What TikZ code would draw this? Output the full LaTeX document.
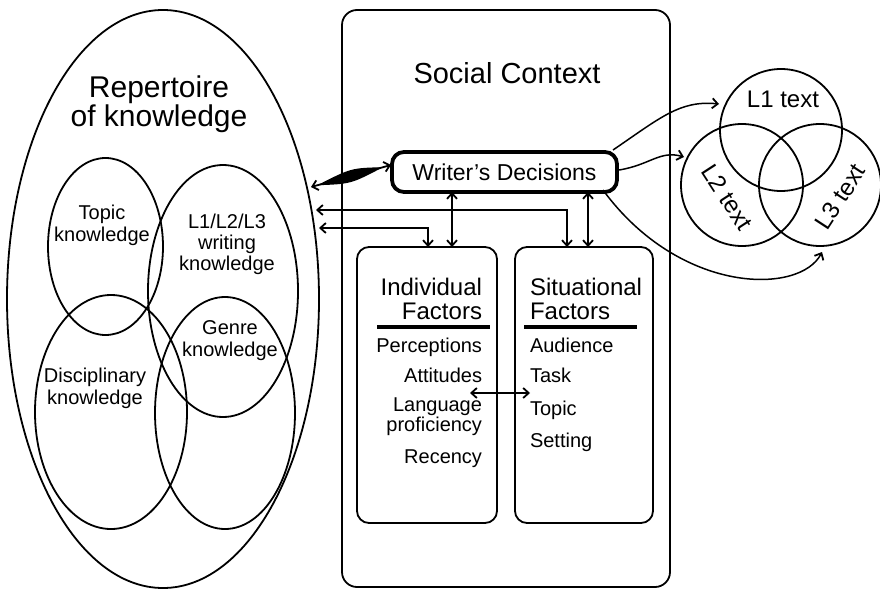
\documentclass[tikz,border=0pt]{standalone}
\usepackage{fontspec}
\setmainfont{Liberation Sans}
\usetikzlibrary{shapes.geometric,arrows.meta,calc}
\begin{document}
\begin{tikzpicture}[x=1pt,y=-1pt,line width=1.8pt,
  ell/.style={ellipse,draw,inner sep=0pt,outer sep=0pt},
  circ/.style={circle,draw,inner sep=0pt,outer sep=0pt,minimum size=122pt},
  box/.style={draw,rounded corners=12pt,inner sep=0pt,outer sep=0pt},
  tip/.tip={Straight Barb[length=5.5pt,width=10pt,line width=1.8pt]},
  arr/.style={tip-tip,line width=1.8pt},
  oneway/.style={-tip,line width=1.5pt},
  lbl/.style={inner sep=0pt,outer sep=0pt,align=center},
  ftitle/.style={font=\fontsize{30}{29}\selectfont},
  fsmall/.style={font=\fontsize{20}{22}\selectfont},
  fhead/.style={font=\fontsize{24}{24}\selectfont},
]
\useasboundingbox (0,0) rectangle (880,589);

% ---------- left: repertoire of knowledge ----------
\node[ell,minimum width=312pt,minimum height=578pt] (rep) at (163,299) {};
\node[lbl,ftitle] (reptitle) at (159,104.5) {Repertoire\\of knowledge};
\node[ell,minimum width=115pt,minimum height=177pt] (topic) at (105.5,246.5) {};
\node[ell,minimum width=150pt,minimum height=252pt] (wk) at (223,291) {};
\node[ell,minimum width=152pt,minimum height=234pt] (disc) at (111,412) {};
\node[ell,minimum width=140pt,minimum height=232pt] (genre) at (225,413) {};
\node[lbl,fsmall] (topict) at (102,225) {Topic\\knowledge};
\node[lbl,font=\fontsize{20}{21}\selectfont] (wkt) at (227,244) {L1/L2/L3\\writing\\knowledge};
\node[lbl,fsmall] (genret) at (230,341) {Genre\\knowledge};
\node[lbl,fsmall] (disct) at (95,388.5) {Disciplinary\\knowledge};

% ---------- middle: social context ----------
\node[box,rounded corners=15pt,minimum width=328pt,minimum height=577pt] (soc) at (506,298.5) {};
\node[lbl,font=\fontsize{29}{29}\selectfont,anchor=base] (soct) at (507,83) {Social Context};
\node[box,line width=3.8pt,minimum width=225pt,minimum height=40pt,
      font=\fontsize{23}{23}\selectfont] (wd) at (504.5,172) {Writer’s Decisions};
\node[box,minimum width=140pt,minimum height=276pt] (ind) at (427,385) {};
\node[box,minimum width=138pt,minimum height=276pt] (sit) at (584,385) {};

% individual factors
\node[lbl,fhead,align=right,anchor=east] (indt) at (482,298.8) {Individual\\Factors};
\draw[line width=4pt] (377,327) -- (490,327);
\node[lbl,fsmall,anchor=base east] (perc) at (482,352) {Perceptions};
\node[lbl,fsmall,anchor=base east] (att) at (482,382) {Attitudes};
\node[lbl,font=\fontsize{20}{17}\selectfont,align=right,anchor=east] (lang) at (482,417) {Language\\proficiency};
\node[lbl,fsmall,anchor=base east] (rec) at (482,463) {Recency};

% situational factors
\node[lbl,fhead,align=left,anchor=west] (sitt) at (530,298.8) {Situational\\Factors};
\draw[line width=4pt] (524,327) -- (637,327);
\node[lbl,fsmall,anchor=base west] (aud) at (530,352) {Audience};
\node[lbl,fsmall,anchor=base west] (task) at (530,382) {Task};
\node[lbl,fsmall,anchor=base west] (top) at (530,415) {Topic};
\node[lbl,fsmall,anchor=base west] (set) at (530,447) {Setting};

% ---------- right: texts venn ----------
\node[circ] (l1) at (781,130) {};
\node[circ] (l2) at (742,185) {};
\node[circ] (l3) at (820,185) {};
\node[lbl,font=\fontsize{24}{24}\selectfont,anchor=base] (l1t) at (783,107) {L1 text};
\node[lbl,font=\fontsize{24}{24}\selectfont,rotate=-57] (l2t) at (727,197) {L2 text};
\node[lbl,font=\fontsize{24}{24}\selectfont,rotate=57] (l3t) at (840,197) {L3 text};

% ---------- connectors ----------
\coordinate (repA) at (311,187);
\coordinate (repB) at (316,210);
\coordinate (repC) at (319,228);
\coordinate (wdA) at (391,165);
% thick tapered double arrow
\draw[arr] (repA) -- (wdA);
\fill ($(repA)!0.08!(wdA)$) .. controls ($(repA)!0.5!(wdA)+(0,-8)$) .. ($(repA)!0.9!(wdA)$)
      .. controls ($(repA)!0.5!(wdA)+(0,8)$) .. cycle;

\draw[arr] (repB) -| (sit.north -| 567,0);
\draw[arr] (repC) -| (ind.north -| 428,0);
\draw[arr] (wd.south -| 452,0) -- (ind.north -| 452,0);
\draw[arr] (wd.south -| 588,0) -- (sit.north -| 588,0);
\draw[arr] (att.base east) ++(-12,11) coordinate (attR) -- (top.base west |- attR);

% to the venn
\draw[oneway] (wd.north east) ++(-4,-2) .. controls (660,118) and (680,100) .. (719,104);
\draw[oneway] (wd.east) ++(2,-2) .. controls (650,165) and (660,150) .. (684,157);
\draw[oneway] (wd.south east) ++(-14,-2) .. controls (680,295) and (800,295) .. (822,252);
\end{tikzpicture}
\end{document}
